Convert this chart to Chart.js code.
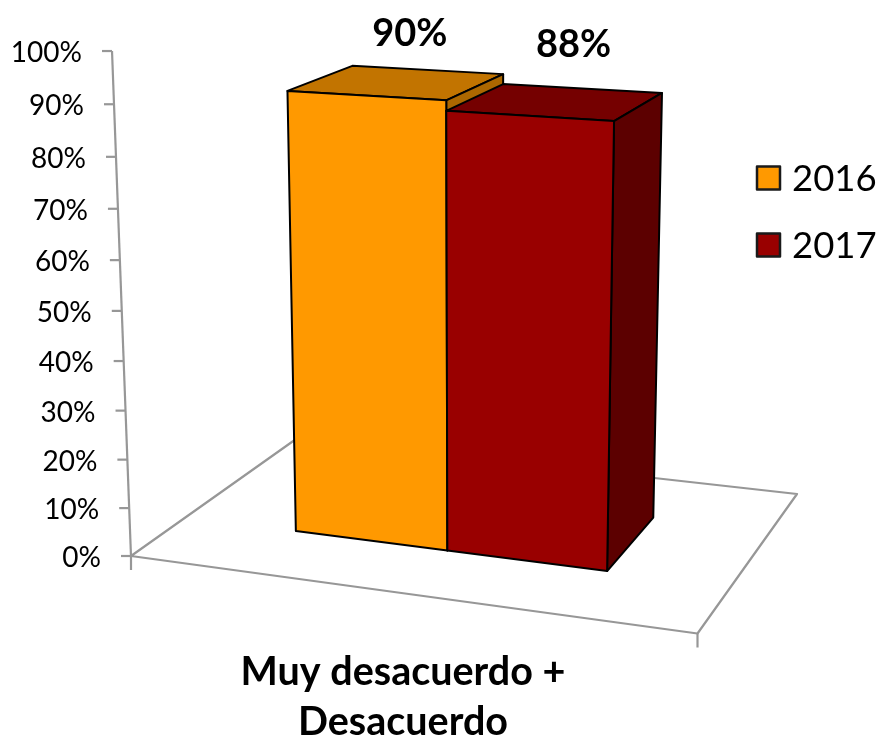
<!DOCTYPE html>
<html><head><meta charset="utf-8">
<style>html,body{margin:0;padding:0;background:#fff}canvas{display:block}</style>
<script src="https://cdn.jsdelivr.net/npm/chart.js@4"></script>
</head><body><canvas id="c" width="881" height="738"></canvas>
<script>
const categories = [['Muy desacuerdo +', 'Desacuerdo']];
const seriesNames = ['2016', '2017'];
const values2016 = [90];
const values2017 = [88];
const frontColors = ['#FF9900', '#990000'];
const topColors = ['#C27400', '#750000'];
const sideColors = ['#AC6700', '#5C0000'];
const labelShift = [[-17, -36], [-8, -44]];
const FONT = 'Lato, "Open Sans", sans-serif';

// perspective of the 3-D box: floor corners and the vanishing point of verticals
const A = [131, 556], B = [697.5, 633.5], C = [797, 494], D = [297.5, 438];
const dx1 = B[0]-C[0], dy1 = B[1]-C[1], dx2 = D[0]-C[0], dy2 = D[1]-C[1];
const sx = A[0]-B[0]+C[0]-D[0], sy = A[1]-B[1]+C[1]-D[1];
const den = dx1*dy2-dx2*dy1;
const g = (sx*dy2-dx2*sy)/den, h = (dx1*sy-sx*dy1)/den;
const a = B[0]-A[0]+g*B[0], b = D[0]-A[0]+h*D[0];
const d = B[1]-A[1]+g*B[1], e = D[1]-A[1]+h*D[1];
const yw = -0.0567, yX = 447, yY = 8957;
function P(u, y, z) {
  const w = g*u+h*z+1+yw*y;
  return [(a*u+b*z+A[0]+yw*y*yX)/w - 2.5*u*y, (d*u+e*z+A[1]+yw*y*yY)/w + 5*u*y];
}
function poly(ctx, pts, fill, stroke, lw) {
  ctx.beginPath();
  pts.forEach((p, i) => i ? ctx.lineTo(p[0], p[1]) : ctx.moveTo(p[0], p[1]));
  ctx.closePath();
  if (fill) { ctx.fillStyle = fill; ctx.fill(); }
  if (stroke) { ctx.strokeStyle = stroke; ctx.lineWidth = lw; ctx.lineJoin = 'round'; ctx.stroke(); }
}
function seg(ctx, p, q) { ctx.beginPath(); ctx.moveTo(p[0], p[1]); ctx.lineTo(q[0], q[1]); ctx.stroke(); }

const Z0 = 0.30, Z1 = 0.70, UOFF = 0.003;
const box3d = {
  id: 'box3d',
  beforeDatasetsDraw(chart) {
    const ctx = chart.ctx, ys = chart.scales.y, xs = chart.scales.x;
    const frac = px => (ys.bottom - px) / ys.height;
    ctx.save();
    // floor and axis
    ctx.strokeStyle = '#979797'; ctx.lineWidth = 2.2;
    poly(ctx, [P(0,0,0), P(1,0,0), P(1,0,1), P(0,0,1)], null, '#979797', 2.2);
    seg(ctx, P(0,0,0), P(0,1,0));
    [0, 1].forEach(u => { const p = P(u,0,0); seg(ctx, p, [p[0], p[1]+14]); });
    ctx.fillStyle = '#000'; ctx.textAlign = 'right'; ctx.textBaseline = 'middle';
    ctx.font = '28px ' + FONT;
    ys.ticks.forEach(t => {
      const p = P(0, frac(ys.getPixelForValue(t.value)), 0);
      seg(ctx, p, [p[0]-10, p[1]]);
      ctx.fillStyle = '#000';
      ctx.fillText(t.label, p[0]-30, p[1]+2);
    });
    // bars
    chart.data.datasets.forEach((ds, i) => {
      const el = chart.getDatasetMeta(i).data[0];
      const u0 = (el.x - el.width/2 - xs.left)/xs.width + UOFF;
      const u1 = (el.x + el.width/2 - xs.left)/xs.width + UOFF;
      const yv = frac(el.y);
      poly(ctx, [P(u0,yv,Z0),P(u1,yv,Z0),P(u1,yv,Z1),P(u0,yv,Z1)], topColors[i], '#000', 2);
      poly(ctx, [P(u1,0,Z0),P(u1,0,Z1),P(u1,yv,Z1),P(u1,yv,Z0)], sideColors[i], '#000', 2);
      poly(ctx, [P(u0,0,Z0),P(u1,0,Z0),P(u1,yv,Z0),P(u0,yv,Z0)], frontColors[i], '#000', 2);
    });
    // value labels
    chart.data.datasets.forEach((ds, i) => {
      const el = chart.getDatasetMeta(i).data[0];
      const uc = (el.x - xs.left)/xs.width + UOFF;
      const p = P(uc, frac(el.y), Z1);
      ctx.fillStyle = '#000'; ctx.textAlign = 'center'; ctx.textBaseline = 'middle';
      ctx.font = 'bold 38px ' + FONT;
      ctx.fillText(ds.data[0] + '%', p[0]+labelShift[i][0], p[1]+labelShift[i][1]);
    });
    // legend
    chart.data.datasets.forEach((ds, i) => {
      const y = 178 + i*67;
      ctx.fillStyle = frontColors[i]; ctx.strokeStyle = '#1a1a1a'; ctx.lineWidth = 2.5;
      ctx.fillRect(757, y-11.5, 23, 23); ctx.strokeRect(757, y-11.5, 23, 23);
      ctx.fillStyle = '#000'; ctx.textAlign = 'left'; ctx.textBaseline = 'middle';
      ctx.font = '36.5px ' + FONT;
      ctx.fillText(ds.label, 792, y+1);
    });
    ctx.restore();
    return false;
  }
};

new Chart(document.getElementById('c'), {
  type: 'bar',
  data: {
    labels: categories,
    datasets: [
      { label: seriesNames[0], data: values2016, backgroundColor: frontColors[0], borderColor: '#000', borderWidth: 1 },
      { label: seriesNames[1], data: values2017, backgroundColor: frontColors[1], borderColor: '#000', borderWidth: 1 }
    ]
  },
  options: {
    responsive: false,
    animation: false,
    layout: { padding: { left: 0, right: 75, top: 50, bottom: -9 } },
    plugins: { legend: { display: false }, tooltip: { enabled: false } },
    scales: {
      x: {
        grid: { display: false }, border: { display: false },
        ticks: { color: '#000', maxRotation: 0, padding: 0,
                 font: { family: FONT, size: 39.5, weight: 'bold', lineHeight: 50/39.5 } }
      },
      y: { display: false, min: 0, max: 100,
           ticks: { stepSize: 10, autoSkip: false, callback: v => v + '%' } }
    },
    datasets: { bar: { categoryPercentage: 0.572, barPercentage: 1 } }
  },
  plugins: [box3d]
});
</script></body></html>
